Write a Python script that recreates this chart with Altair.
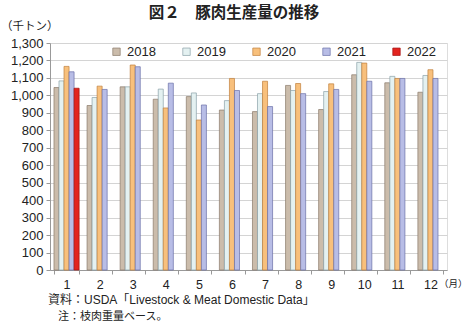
import altair as alt
import pandas as pd

months = [str(m) for m in range(1, 13)]
years = ["2018", "2019", "2020", "2021", "2022"]
v2018 = [1045, 942, 1049, 978, 993, 916, 907, 1057, 919, 1118, 1072, 1018]
v2019 = [1083, 988, 1049, 1036, 1014, 970, 1010, 1028, 1022, 1189, 1109, 1114]
v2020 = [1166, 1053, 1174, 928, 859, 1097, 1081, 1068, 1066, 1185, 1097, 1147]
v2021 = [1135, 1034, 1164, 1070, 945, 1028, 936, 1010, 1034, 1081, 1097, 1097]
v2022 = [1041]

fills = ["#cbbcab", "#e4f1f1", "#f8c07c", "#b8bde6", "#e3241f"]
strokes = ["#8a7a6a", "#8aa0a8", "#c0803c", "#6a70a8", "#a01010"]

title = "図２　豚肉生産量の推移"
unit_y = "（千トン）"
unit_x = "（月）"
source = "資料：USDA「Livestock & Meat Domestic Data」"
note = "注：枝肉重量ベース。"

rows = []
for y, vals in zip(years, [v2018, v2019, v2020, v2021, v2022]):
    for m, v in zip(months, vals):
        rows.append({"month": m, "year": y, "value": v})
df = pd.DataFrame(rows)

num_font = "Liberation Sans"
jp_font = "Liberation Sans, Noto Sans CJK JP"

bars = alt.Chart(df).mark_bar(strokeWidth=0.7).encode(
    x=alt.X("month:N", sort=months, title=None,
            scale=alt.Scale(paddingInner=0.24, paddingOuter=0.12),
            axis=alt.Axis(labelAngle=0, labelFont=num_font, labelFontSize=12.5,
                          labelColor="#222", tickBand="extent", tickSize=4,
                          tickColor="#999", domainColor="#999", labelPadding=4,
                          grid=False)),
    xOffset=alt.XOffset("year:N", sort=years, scale=alt.Scale(domain=years)),
    y=alt.Y("value:Q", title=None,
            scale=alt.Scale(domain=[0, 1300], nice=False),
            axis=alt.Axis(values=list(range(0, 1301, 100)), format=",d",
                          labelFont=num_font, labelFontSize=13, labelColor="#222",
                          tickSize=4, tickColor="#999", domainColor="#999",
                          gridColor="#d4d4d4", labelPadding=3)),
    fill=alt.Fill("year:N", sort=years,
                  scale=alt.Scale(domain=years, range=fills),
                  legend=alt.Legend(title=None, orient="none", legendX=60, legendY=2,
                                    direction="horizontal", columns=5,
                                    symbolType="square", symbolSize=55,
                                    symbolStrokeWidth=0.7, labelFont=num_font,
                                    labelFontSize=13, labelColor="#222",
                                    columnPadding=24, labelOffset=4)),
    stroke=alt.Stroke("year:N", sort=years,
                      scale=alt.Scale(domain=years, range=strokes), legend=None),
)

def txt(s, x, y, size, align="left", weight="normal", font=jp_font):
    return alt.Chart(pd.DataFrame({"t": [s]})).mark_text(
        align=align, baseline="middle", fontSize=size, font=font,
        fontWeight=weight, color="#222"
    ).encode(text="t:N", x=alt.value(x), y=alt.value(y))

chart = alt.layer(
    bars,
    txt(title, 184, -30, 15.5, align="center", weight="bold", font="Noto Sans CJK JP"),
    txt(unit_y, -49, -16, 11.5),
    txt(unit_x, 389, 241, 9.5),
    txt(source, -2, 257, 12),
    txt(note, 8, 274, 11),
).properties(
    width=397, height=227,
    padding={"left": 50, "top": 43, "right": 20, "bottom": 55},
    autosize=alt.AutoSizeParams(type="none"),
).configure_view(stroke=None).configure(background="white")

chart.save("out.html", embed_options={"renderer": "svg", "actions": False})
